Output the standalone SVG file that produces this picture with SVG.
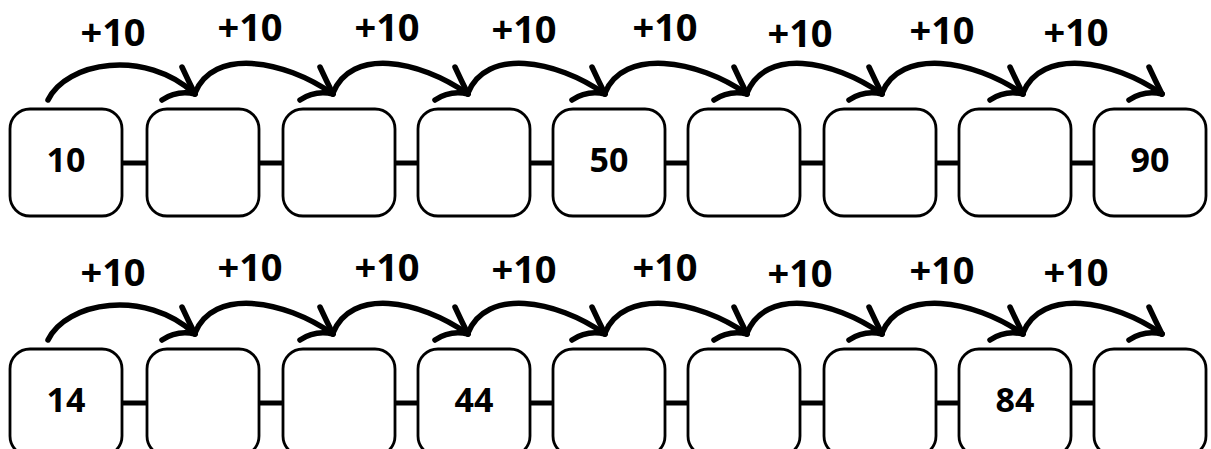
<svg xmlns="http://www.w3.org/2000/svg" xmlns:xlink="http://www.w3.org/1999/xlink" width="1211" height="449" viewBox="0 0 1211 449">
<style>
.box{fill:#fff;stroke:#000;stroke-width:2.8}
.num{font-family:"Open Sans","Noto Sans","Liberation Sans",sans-serif;font-weight:700;font-size:34px;fill:#000;text-anchor:middle}
.lbl{font-family:"Open Sans","Noto Sans","Liberation Sans",sans-serif;font-weight:700;font-size:38px;fill:#000;text-anchor:middle}
.link{stroke:#000;stroke-width:5;fill:none}
.arc{stroke:#000;stroke-width:5.5;fill:none;stroke-linecap:round}
.head{stroke:#000;stroke-width:5.5;fill:none;stroke-linecap:round;stroke-linejoin:round}
</style>
<defs>
<g id="ah" class="head"><path d="M-13,-27 Q-7,-14 0,0"/><path d="M-33,6 Q-18,-4 0,0"/></g>
</defs>
<rect width="1211" height="449" fill="#fff"/>
<g id="connectors">
<g id="links-top">
<line class="link" x1="122" y1="163" x2="146" y2="163"/>
<line class="link" x1="259" y1="163" x2="282" y2="163"/>
<line class="link" x1="395" y1="163" x2="417" y2="163"/>
<line class="link" x1="530" y1="163" x2="552" y2="163"/>
<line class="link" x1="665" y1="163" x2="687" y2="163"/>
<line class="link" x1="800" y1="163" x2="823" y2="163"/>
<line class="link" x1="936" y1="163" x2="958" y2="163"/>
<line class="link" x1="1071" y1="163" x2="1093" y2="163"/>
</g>
<g id="arcs-top">
<path class="arc" d="M48,100 C66,62 145,48 195,94"/>
<path class="arc" d="M195,93 C213,48 283,59 333,94"/>
<path class="arc" d="M333,93 C351,48 418,59 468,94"/>
<path class="arc" d="M468,93 C486,48 555,59 605,94"/>
<path class="arc" d="M605,93 C623,48 697,59 747,94"/>
<path class="arc" d="M747,93 C765,48 832,59 882,94"/>
<path class="arc" d="M882,93 C900,48 973,59 1023,94"/>
<path class="arc" d="M1023,93 C1041,48 1112,59 1162,94"/>
<use xlink:href="#ah" x="195" y="94"/>
<use xlink:href="#ah" x="333" y="94"/>
<use xlink:href="#ah" x="468" y="94"/>
<use xlink:href="#ah" x="605" y="94"/>
<use xlink:href="#ah" x="747" y="94"/>
<use xlink:href="#ah" x="882" y="94"/>
<use xlink:href="#ah" x="1023" y="94"/>
<use xlink:href="#ah" x="1162" y="94"/>
</g>
<g id="links-bottom" transform="translate(0,240)">
<line class="link" x1="122" y1="163" x2="146" y2="163"/>
<line class="link" x1="259" y1="163" x2="282" y2="163"/>
<line class="link" x1="395" y1="163" x2="417" y2="163"/>
<line class="link" x1="530" y1="163" x2="552" y2="163"/>
<line class="link" x1="665" y1="163" x2="687" y2="163"/>
<line class="link" x1="800" y1="163" x2="823" y2="163"/>
<line class="link" x1="936" y1="163" x2="958" y2="163"/>
<line class="link" x1="1071" y1="163" x2="1093" y2="163"/>
</g>
<g id="arcs-bottom" transform="translate(0,240)">
<path class="arc" d="M48,100 C66,62 145,48 195,94"/>
<path class="arc" d="M195,93 C213,48 283,59 333,94"/>
<path class="arc" d="M333,93 C351,48 418,59 468,94"/>
<path class="arc" d="M468,93 C486,48 555,59 605,94"/>
<path class="arc" d="M605,93 C623,48 697,59 747,94"/>
<path class="arc" d="M747,93 C765,48 832,59 882,94"/>
<path class="arc" d="M882,93 C900,48 973,59 1023,94"/>
<path class="arc" d="M1023,93 C1041,48 1112,59 1162,94"/>
<use xlink:href="#ah" x="195" y="94"/>
<use xlink:href="#ah" x="333" y="94"/>
<use xlink:href="#ah" x="468" y="94"/>
<use xlink:href="#ah" x="605" y="94"/>
<use xlink:href="#ah" x="747" y="94"/>
<use xlink:href="#ah" x="882" y="94"/>
<use xlink:href="#ah" x="1023" y="94"/>
<use xlink:href="#ah" x="1162" y="94"/>
</g>
</g>
<g id="labels-top">
<text class="lbl" x="113" y="46">+10</text>
<text class="lbl" x="250" y="41">+10</text>
<text class="lbl" x="387" y="41">+10</text>
<text class="lbl" x="524" y="43">+10</text>
<text class="lbl" x="665" y="41">+10</text>
<text class="lbl" x="800" y="47">+10</text>
<text class="lbl" x="942" y="44">+10</text>
<text class="lbl" x="1076" y="46">+10</text>
</g>
<g id="labels-bottom">
<text class="lbl" x="113" y="286">+10</text>
<text class="lbl" x="250" y="281">+10</text>
<text class="lbl" x="387" y="281">+10</text>
<text class="lbl" x="524" y="283">+10</text>
<text class="lbl" x="665" y="281">+10</text>
<text class="lbl" x="800" y="287">+10</text>
<text class="lbl" x="942" y="284">+10</text>
<text class="lbl" x="1076" y="286">+10</text>
</g>
<g id="t1"><rect class="box" x="10" y="109" width="112" height="107" rx="20"/><text class="num" x="66" y="172">10</text></g>
<g id="t2"><rect class="box" x="147" y="109" width="112" height="107" rx="20"/></g>
<g id="t3"><rect class="box" x="283" y="109" width="112" height="107" rx="20"/></g>
<g id="t4"><rect class="box" x="418" y="109" width="112" height="107" rx="20"/></g>
<g id="t5"><rect class="box" x="553" y="109" width="112" height="107" rx="20"/><text class="num" x="609" y="172">50</text></g>
<g id="t6"><rect class="box" x="688" y="109" width="112" height="107" rx="20"/></g>
<g id="t7"><rect class="box" x="824" y="109" width="112" height="107" rx="20"/></g>
<g id="t8"><rect class="box" x="959" y="109" width="112" height="107" rx="20"/></g>
<g id="t9"><rect class="box" x="1094" y="109" width="112" height="107" rx="20"/><text class="num" x="1150" y="172">90</text></g>
<g id="b1"><rect class="box" x="10" y="349" width="112" height="107" rx="20"/><text class="num" x="66" y="412">14</text></g>
<g id="b2"><rect class="box" x="147" y="349" width="112" height="107" rx="20"/></g>
<g id="b3"><rect class="box" x="283" y="349" width="112" height="107" rx="20"/></g>
<g id="b4"><rect class="box" x="418" y="349" width="112" height="107" rx="20"/><text class="num" x="474" y="412">44</text></g>
<g id="b5"><rect class="box" x="553" y="349" width="112" height="107" rx="20"/></g>
<g id="b6"><rect class="box" x="688" y="349" width="112" height="107" rx="20"/></g>
<g id="b7"><rect class="box" x="824" y="349" width="112" height="107" rx="20"/></g>
<g id="b8"><rect class="box" x="959" y="349" width="112" height="107" rx="20"/><text class="num" x="1015" y="412">84</text></g>
<g id="b9"><rect class="box" x="1094" y="349" width="112" height="107" rx="20"/></g>
</svg>
